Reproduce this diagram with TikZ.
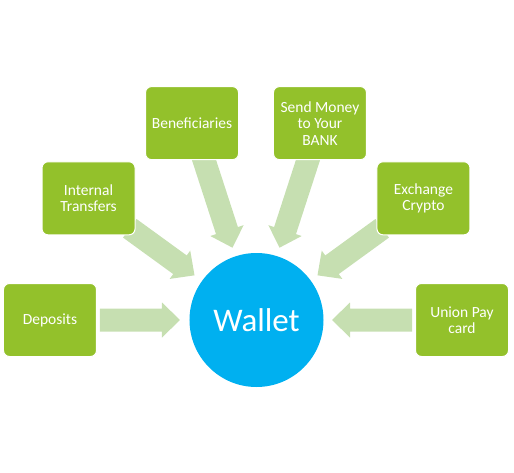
\documentclass[tikz,border=0pt]{standalone}
\usepackage{fontspec}
\setmainfont{Carlito}
\definecolor{boxgreen}{HTML}{93C12B}
\definecolor{arrowgreen}{HTML}{C6DFB1}
\definecolor{wblue}{HTML}{00B0F0}
\begin{document}
\begin{tikzpicture}[x=1pt,y=1pt,
  box/.style={fill=boxgreen, draw=white, line width=1pt, rounded corners=6pt,
    minimum width=93pt, minimum height=73pt, text=white, align=center,
    inner sep=2pt, font=\fontsize{15.5}{16.5}\selectfont},
  hub/.style={circle, fill=wblue, minimum size=134pt, inner sep=0pt, text=white,
    font=\fontsize{33}{36}\selectfont},
  blockarrow/.style={fill=arrowgreen}]
\useasboundingbox (-256,-152) rectangle (258,320);
% block arrows pointing to the hub
\foreach \a/\t in {180/156,144/156,108/172,72/172,36/156,0/156}
  \fill[blockarrow, rotate=\a] (\t,11.5) -- (94,11.5) -- (94,17.5) -- (76,0)
     -- (94,-17.5) -- (94,-11.5) -- (\t,-11.5) -- cycle;
\node[hub] (w) at (0.5,0) {Wallet};
\node[box] (dep) at (180:206) {Deposits};
\node[box] (it) at (144:207) {Internal\\Transfers};
\node[box] (ben) at (108:207) {Beneficiaries};
\node[box] (send) at (72:207) {Send Money\\to Your\\BANK};
\node[box] (ex) at (36:207) {Exchange\\Crypto};
\node[box] (up) at (0:206) {Union Pay\\card};
\end{tikzpicture}
\end{document}
